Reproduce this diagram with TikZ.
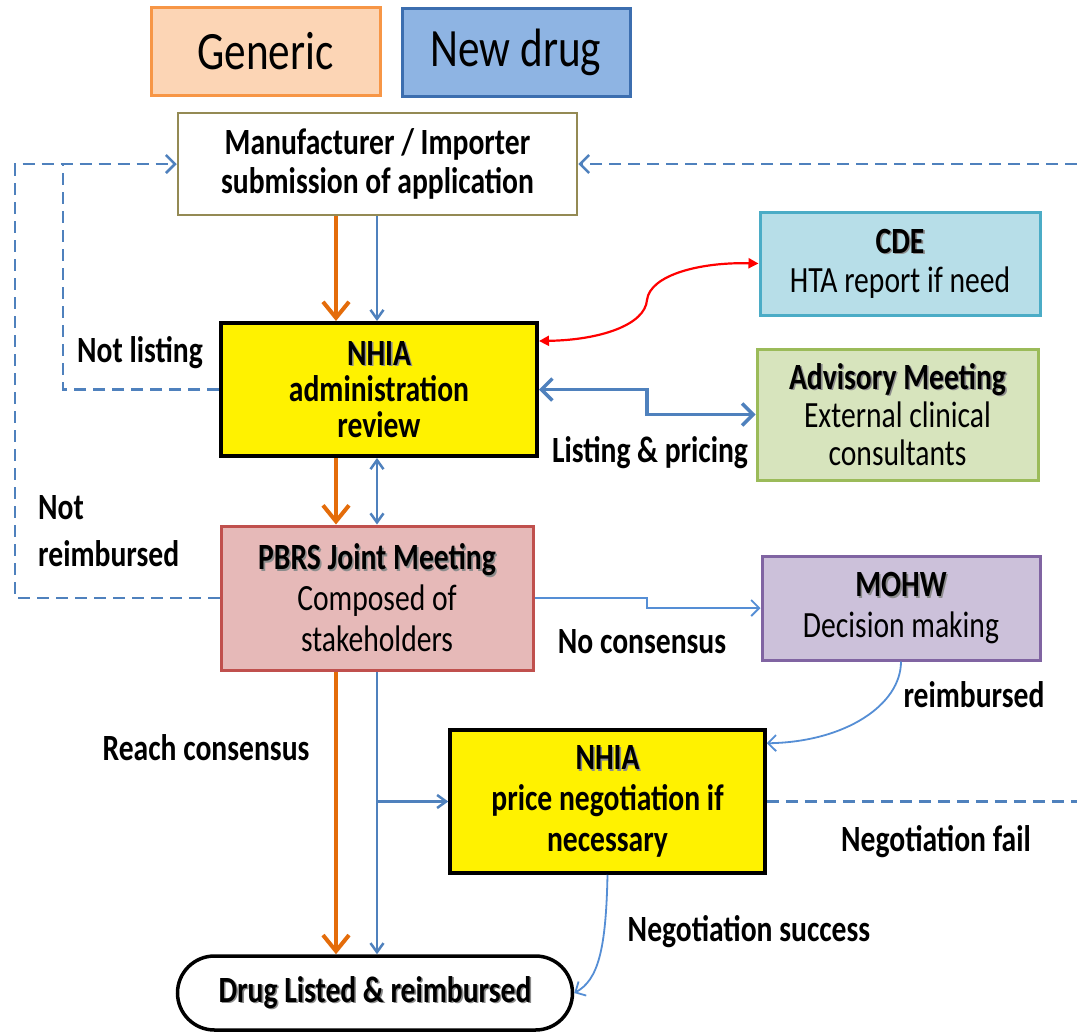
\documentclass[tikz,border=0pt]{standalone}
\usepackage{fontspec}
\setmainfont{Carlito}[FakeStretch=0.8]
\usetikzlibrary{arrows.meta,calc}
\definecolor{orangeL}{RGB}{228,108,10}
\definecolor{blueL}{RGB}{79,129,189}
\definecolor{blueT}{RGB}{85,142,213}
\definecolor{genF}{RGB}{252,213,181}
\definecolor{genB}{RGB}{247,150,70}
\definecolor{newF}{RGB}{142,180,227}
\definecolor{newB}{RGB}{60,110,175}
\definecolor{manB}{RGB}{148,138,84}
\definecolor{cdeF}{RGB}{183,222,232}
\definecolor{cdeB}{RGB}{75,172,198}
\definecolor{advF}{RGB}{215,228,189}
\definecolor{advB}{RGB}{155,187,89}
\definecolor{pbrF}{RGB}{230,185,184}
\definecolor{pbrB}{RGB}{192,80,77}
\definecolor{mohF}{RGB}{204,193,218}
\definecolor{mohB}{RGB}{128,100,162}
\definecolor{shade}{RGB}{140,140,140}
\newcommand{\bxfont}{\fontsize{37}{39}\selectfont}
\newcommand{\shd}[1]{\makebox[0pt][l]{\hspace{1.6pt}\raisebox{-1.6pt}{\textcolor{shade}{#1}}}#1}
\begin{document}
\begin{tikzpicture}[x=1pt,y=-1pt,
  box/.style={draw, line width=3pt, inner sep=0pt, align=center, font=\bxfont, text=black},
  lbl/.style={inner sep=0pt, font=\bxfont\bfseries, text=black},
  orarrow/.style={draw=orangeL, line width=4pt, -{Straight Barb[length=16pt,width=26pt,line width=4pt]}},
  blarrow/.style={draw=blueL, line width=2.5pt, -{Straight Barb[length=9pt,width=13pt,line width=2.5pt]}},
  blthin/.style={draw=blueT, line width=1.8pt},
  dashline/.style={draw=blueL, line width=2.5pt, dash pattern=on 12pt off 7pt},
  barb/.style={-{Straight Barb[length=9pt,width=18pt,line width=2.5pt]}}
]
\useasboundingbox (0,0) rectangle (1077,1034);
\fill[white] (0,0) rectangle (1077,1034);

% nodes
\node[box, draw=genB, fill=genF, minimum width=229, minimum height=88, font=\fontsize{54}{56}\selectfont] (gen) at (265.5,51) {Generic};
\node[box, draw=newB, fill=newF, minimum width=228, minimum height=88, font=\fontsize{54}{56}\selectfont] (new) at (516,52) {New drug};
\node[box, draw=manB, fill=white, line width=2.5pt, minimum width=399, minimum height=102, font=\bxfont\bfseries] (manu) at (377.5,164) {Manufacturer / Importer\\submission of application};
\node[box, draw=black, fill=yellow, line width=4pt, minimum width=316, minimum height=133, font=\fontsize{37}{36}\selectfont\bfseries] (nhia) at (379,389.5) {\shd{NHIA}\\administration\\review};
\node[box, draw=cdeB, fill=cdeF, minimum width=280, minimum height=103] (cde) at (900,263.5) {\textbf{\shd{CDE}}\\HTA report if need};
\node[box, draw=advB, fill=advF, minimum width=281, minimum height=131, font=\fontsize{37}{38}\selectfont] (adv) at (897.5,414.5) {\textbf{\shd{Advisory Meeting}}\\External clinical\\consultants};
\node[box, draw=pbrB, fill=pbrF, minimum width=312, minimum height=144, font=\fontsize{37}{41}\selectfont] (pbrs) at (377,598) {\textbf{\shd{PBRS Joint Meeting}}\\Composed of\\stakeholders};
\node[box, draw=mohB, fill=mohF, minimum width=278, minimum height=104, font=\fontsize{37}{41}\selectfont] (mohw) at (901,608) {\textbf{\shd{MOHW}}\\Decision making};
\node[box, draw=black, fill=yellow, line width=3.5pt, minimum width=315, minimum height=143, font=\fontsize{37}{41}\selectfont\bfseries] (price) at (607.5,801.5) {\shd{NHIA}\\price negotiation if\\necessary};
\node[box, draw=black, fill=white, line width=3.5pt, rounded corners=37pt, minimum width=395, minimum height=74, font=\bxfont\bfseries] (drug) at (375,993) {\shd{Drug Listed \& reimbursed}};

% helper coordinates
\coordinate (xo) at (336,0);
\coordinate (xb) at (377,0);
\coordinate (cx1) at (63,0);
\coordinate (cx2) at (15,0);
\coordinate (cmid) at (647,0);
\coordinate (redge) at (1077,0);

% main vertical flows
\draw[orarrow] (manu.south -| xo) -- (nhia.north -| xo);
\draw[blarrow] (manu.south -| xb) -- (nhia.north -| xb);
\draw[orarrow] (nhia.south -| xo) -- (pbrs.north -| xo);
\draw[blarrow, {Straight Barb[length=9pt,width=13pt,line width=2.5pt]}-{Straight Barb[length=9pt,width=13pt,line width=2.5pt]}] (nhia.south -| xb) -- (pbrs.north -| xb);
\draw[orarrow] (pbrs.south -| xo) -- (drug.north -| xo);
\draw[blarrow] (pbrs.south -| xb) -- (drug.north -| xb);
\draw[blarrow] (xb |- price.west) -- (price.west);

% dashed returns
\draw[dashline] (nhia.west) -- (nhia.west -| cx1) -- (cx1 |- manu.west);
\draw[dashline, barb] (pbrs.west) -- (pbrs.west -| cx2) -- (cx2 |- manu.west) -- (manu.west);
\draw[dashline] (price.east) -- (price.east -| redge);
\draw[dashline, barb] (redge |- manu.east) -- (manu.east);

% side connections
\draw[red, line width=2.2pt, {Triangle[length=10pt,width=10pt]}-{Triangle[length=10pt,width=10pt]}]
  ($(nhia.north east)+(0,20)$) .. controls (600,340) and (645,325) .. (647,300)
  .. controls (650,275) and (700,262) .. (cde.west);
\draw[draw=blueL, line width=3.5pt, {Straight Barb[length=11pt,width=22pt,line width=3.5pt]}-{Straight Barb[length=11pt,width=22pt,line width=3.5pt]}]
  (nhia.east) -- (nhia.east -| cmid) -- (cmid |- adv.west) -- (adv.west);
\draw[blthin, -{Straight Barb[length=8pt,width=16pt,line width=1.8pt]}]
  (pbrs.east) -- (pbrs.east -| cmid) -- (cmid |- mohw.west) -- (mohw.west);
\draw[blthin, -{Straight Barb[length=8pt,width=16pt,line width=1.8pt]}]
  (mohw.south) .. controls (901,705) and (845,742) .. ($(price.north east)+(0,15)$);
\draw[blthin, -{Straight Barb[length=8pt,width=16pt,line width=1.8pt]}]
  (price.south) .. controls (606,950) and (598,980) .. (drug.east);

% labels
\node[lbl] (l1) at (140,353) {Not listing};
\node[lbl, anchor=west, align=left, font=\fontsize{37}{47}\selectfont\bfseries] (l2) at (38,531) {Not\\reimbursed};
\node[lbl] (l3) at (650,453) {Listing \& pricing};
\node[lbl] (l4) at (642,642) {No consensus};
\node[lbl] (l5) at (974,695) {reimbursed};
\node[lbl] (l6) at (206,748) {Reach consensus};
\node[lbl] (l7) at (936,842) {Negotiation fail};
\node[lbl] (l8) at (749,932) {Negotiation success};
\end{tikzpicture}
\end{document}
